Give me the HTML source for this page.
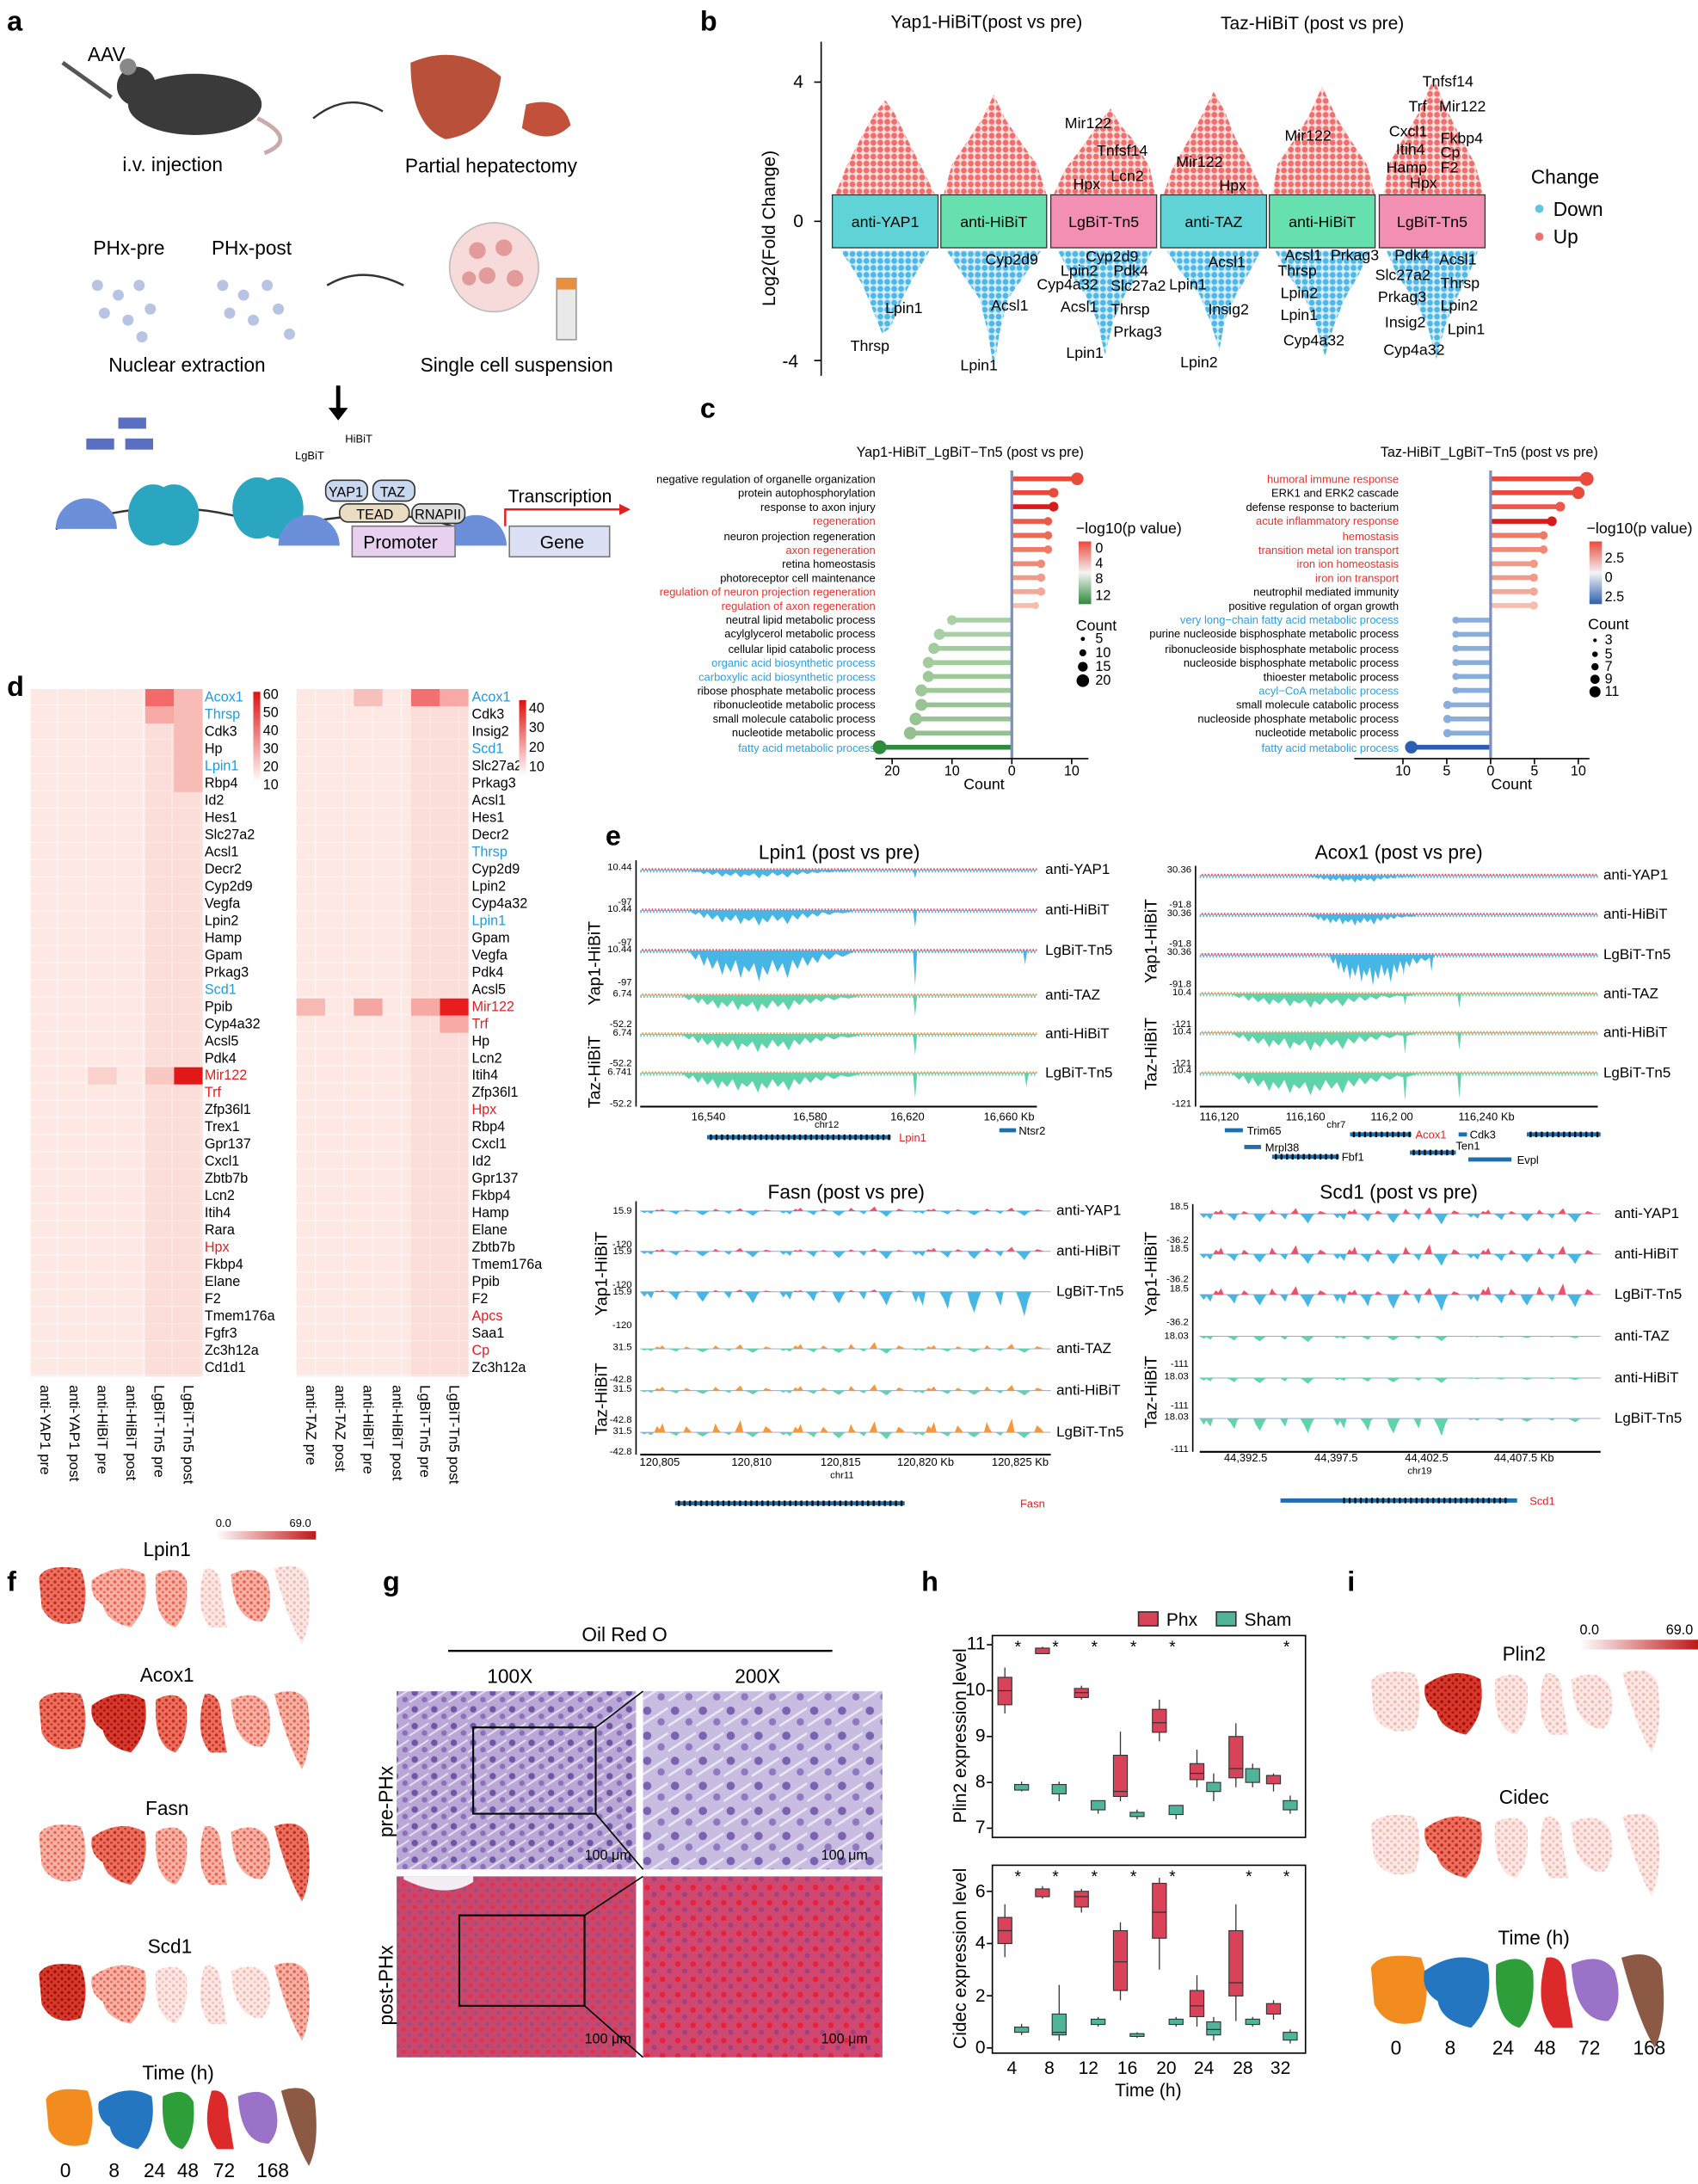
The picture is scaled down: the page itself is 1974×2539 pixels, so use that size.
<!DOCTYPE html>
<html><head><meta charset="utf-8"><style>
html,body{margin:0;padding:0;background:#fff}
svg{display:block}
text{font-family:"Liberation Sans",Arial,sans-serif}
.bl{stroke:#9aa8d0;stroke-width:0.6}
.nd{stroke-width:1.6;stroke-dasharray:1 1.3}
.w{stroke:#333;stroke-width:0.8}
.bp{fill:#d9435a;stroke:#333;stroke-width:0.7}
.bs{fill:#4fb49a;stroke:#333;stroke-width:0.7}
</style></head><body>
<svg xmlns="http://www.w3.org/2000/svg" xmlns:xlink="http://www.w3.org/1999/xlink" width="1974" height="2539" viewBox="0 0 1220 1569" preserveAspectRatio="none">
<defs>
<pattern id="rd" width="5" height="5" patternUnits="userSpaceOnUse"><rect width="5" height="5" fill="#fbe0dc"/><circle cx="2.5" cy="2.5" r="2.1" fill="#f26e6e"/></pattern>
<pattern id="bd" width="5" height="5" patternUnits="userSpaceOnUse"><rect width="5" height="5" fill="#d6eef9"/><circle cx="2.5" cy="2.5" r="2.1" fill="#4fb8e8"/></pattern>
<pattern id="hm" width="20.6" height="12.35" patternUnits="userSpaceOnUse"><rect width="20.6" height="12.35" fill="#fde8e4" stroke="#fff" stroke-width="0.5"/></pattern>
<pattern id="pre1" width="14" height="12" patternUnits="userSpaceOnUse"><rect width="14" height="12" fill="#b9a8d6"/><circle cx="4" cy="4" r="2.3" fill="#6e55a5"/><circle cx="11" cy="9" r="2" fill="#8a70bb"/><path d="M0,11 L14,2" stroke="#e6def2" stroke-width="1.2"/></pattern>
<pattern id="pre2" width="20" height="18" patternUnits="userSpaceOnUse"><rect width="20" height="18" fill="#c8bce0"/><circle cx="5" cy="5" r="3" fill="#7a62b0"/><circle cx="15" cy="13" r="2.6" fill="#8e78c0"/><path d="M0,16 L20,3" stroke="#ece6f6" stroke-width="1.6"/></pattern>
<pattern id="post1" width="8" height="8" patternUnits="userSpaceOnUse"><rect width="8" height="8" fill="#c9476b"/><circle cx="2" cy="2" r="1.5" fill="#e23050"/><circle cx="6" cy="6" r="1.3" fill="#9a4a8a"/></pattern>
<pattern id="post2" width="11" height="11" patternUnits="userSpaceOnUse"><rect width="11" height="11" fill="#d04870"/><circle cx="3" cy="3" r="2" fill="#e8203a"/><circle cx="8" cy="8" r="1.8" fill="#a04080"/></pattern>
<pattern id="o0" width="5" height="5" patternUnits="userSpaceOnUse"><rect width="5" height="5" fill="#fbe7e4"/><circle cx="1.5" cy="1.5" r="1.1" fill="#f3b8b0"/><circle cx="4" cy="3.8" r="0.8" fill="#f3b8b0"/></pattern>
<pattern id="o1" width="5" height="5" patternUnits="userSpaceOnUse"><rect width="5" height="5" fill="#f6b0a4"/><circle cx="1.5" cy="1.5" r="1.1" fill="#e8604e"/><circle cx="4" cy="3.8" r="0.8" fill="#e8604e"/></pattern>
<pattern id="o2" width="5" height="5" patternUnits="userSpaceOnUse"><rect width="5" height="5" fill="#e9705e"/><circle cx="1.5" cy="1.5" r="1.1" fill="#c8281c"/><circle cx="4" cy="3.8" r="0.8" fill="#c8281c"/></pattern>
<pattern id="o3" width="5" height="5" patternUnits="userSpaceOnUse"><rect width="5" height="5" fill="#d8382a"/><circle cx="1.5" cy="1.5" r="1.1" fill="#a01010"/><circle cx="4" cy="3.8" r="0.8" fill="#a01010"/></pattern>
<linearGradient id="fg"><stop offset="0" stop-color="#fff"/><stop offset="1" stop-color="#c01818"/></linearGradient>
<linearGradient id="hg" x1="0" y1="0" x2="0" y2="1"><stop offset="0" stop-color="#e01010"/><stop offset="1" stop-color="#fff"/></linearGradient>
<linearGradient id="gg" x1="0" y1="0" x2="0" y2="1"><stop offset="0" stop-color="#e84a3c"/><stop offset="0.5" stop-color="#f4f4f4"/><stop offset="1" stop-color="#2e8a3c"/></linearGradient>
<linearGradient id="gb" x1="0" y1="0" x2="0" y2="1"><stop offset="0" stop-color="#e84a3c"/><stop offset="0.5" stop-color="#f4f4f4"/><stop offset="1" stop-color="#2d5fb0"/></linearGradient>
<path id="dip" d="M0,0 L4,3 L6,1 L9,5 L11,2 L14,6 L17,3 L20,8 L22,4 L25,7 L28,3 L31,9 L33,5 L36,7 L39,4 L42,10 L44,5 L47,8 L50,3 L53,7 L56,4 L59,9 L62,3 L65,6 L68,2 L71,5 L74,2 L77,4 L80,1 L84,3 L88,1 L92,2 L96,1 L100,0 Z"/>
<path id="spk" d="M0,0 L1,10 L2,0Z"/>
<path id="bD" d="M0,0 L3,3 L5,1 L8,4 L10,0 L20,0 L23,2 L26,5 L28,1 L30,0 L40,0 L42,3 L45,6 L48,2 L50,0 L60,0 L62,2 L64,4 L66,0 L75,0 L78,3 L81,7 L84,2 L86,0 L100,0Z"/>
<path id="bU" d="M10,0 L12,-2 L14,-1 L16,-3 L18,0 L31,0 L33,-2 L35,-1 L37,0 L52,0 L54,-3 L56,-1 L58,0 L68,0 L70,-2 L72,-4 L74,0 L88,0 L90,-2 L93,-1 L95,0Z"/>
<path id="s0" d="M0,8 Q5,-2 30,2 Q37,20 30,40 Q10,46 2,30Z"/>
<path id="s1" d="M0,10 Q20,-4 38,6 Q42,30 28,44 Q10,40 8,28 Q-2,22 0,10Z"/>
<path id="s2" d="M4,6 Q20,-2 26,10 Q28,34 18,44 Q2,40 4,6Z"/>
<path id="s3" d="M8,2 Q20,0 20,20 L24,44 L12,44 Q0,30 8,2Z"/>
<path id="s4" d="M2,6 Q20,-2 28,10 Q34,30 24,40 Q4,40 2,6Z"/>
<path id="s5" d="M2,2 Q20,-4 26,8 Q30,40 22,56 Q12,40 2,2Z"/>
</defs>
<rect width="1220" height="1569" fill="#fff"/>
<g font-weight="bold" font-size="20">
<text x="5" y="22">a</text><text x="503" y="22">b</text><text x="503" y="300">c</text>
<text x="5" y="500">d</text><text x="435" y="607">e</text><text x="5" y="1143">f</text>
<text x="275" y="1143">g</text><text x="662" y="1143">h</text><text x="968" y="1143">i</text>
</g>
<!-- panel a -->
<g font-size="14">
<text x="63" y="44">AAV</text>
<ellipse cx="140" cy="75" rx="48" ry="22" fill="#3a3a3a"/><circle cx="98" cy="62" r="14" fill="#3a3a3a"/><circle cx="92" cy="48" r="6" fill="#888"/>
<path d="M185,85 Q215,100 190,110" stroke="#caa" stroke-width="3" fill="none"/>
<line x1="45" y1="45" x2="80" y2="70" stroke="#555" stroke-width="3"/>
<text x="88" y="123">i.v. injection</text>
<path d="M225,85 Q250,65 275,80" stroke="#333" fill="none" stroke-width="1.5"/>
<path d="M295,45 Q330,30 360,55 Q355,95 320,100 Q295,90 295,45Z" fill="#b8503a"/>
<path d="M378,75 Q405,68 410,90 Q395,105 375,92Z" fill="#c2503a"/>
<text x="291" y="124">Partial hepatectomy</text>
<circle cx="355" cy="192" r="32" fill="#f7dada" stroke="#bbb"/>
<g fill="#e39a9a"><circle cx="343" cy="180" r="6"/><circle cx="362" cy="178" r="6"/><circle cx="350" cy="198" r="6"/><circle cx="370" cy="200" r="6"/><circle cx="337" cy="200" r="5"/></g>
<rect x="400" y="200" width="14" height="44" fill="#e9e9e9" stroke="#999"/><rect x="400" y="200" width="14" height="8" fill="#e89040"/>
<text x="302" y="267">Single cell suspension</text>
<text x="67" y="183">PHx-pre</text><text x="152" y="183">PHx-post</text>
<g fill="#b8c4e4"><circle cx="70" cy="205" r="4"/><circle cx="85" cy="212" r="4"/><circle cx="100" cy="205" r="4"/><circle cx="75" cy="225" r="4"/><circle cx="92" cy="230" r="4"/><circle cx="108" cy="222" r="4"/><circle cx="160" cy="205" r="4"/><circle cx="175" cy="212" r="4"/><circle cx="192" cy="205" r="4"/><circle cx="165" cy="225" r="4"/><circle cx="182" cy="230" r="4"/><circle cx="200" cy="222" r="4"/><circle cx="208" cy="240" r="4"/><circle cx="102" cy="242" r="4"/></g>
<text x="78" y="267">Nuclear extraction</text>
<path d="M290,205 Q260,190 235,205" stroke="#333" fill="none" stroke-width="1.5"/>
<line x1="243" y1="277" x2="243" y2="295" stroke="#000" stroke-width="3"/>
<path d="M236,293 L250,293 L243,302Z"/>
<path d="M40,380 Q120,350 200,380 Q280,360 330,380" stroke="#333" fill="none" stroke-width="1.5"/>
<g fill="#2aa6c0"><ellipse cx="110" cy="370" rx="18" ry="22"/><ellipse cx="125" cy="370" rx="18" ry="22"/><ellipse cx="185" cy="365" rx="18" ry="22"/><ellipse cx="200" cy="365" rx="18" ry="22"/></g>
<g fill="#6c8fd9"><path d="M40,380 a22,22 0 0 1 44,0Z"/><path d="M200,392 a22,22 0 0 1 44,0Z"/><path d="M320,392 a22,22 0 0 1 44,0Z"/></g>
<g fill="#5a6fc0"><rect x="62" y="315" width="20" height="8"/><rect x="85" y="300" width="20" height="8"/><rect x="90" y="315" width="20" height="8"/></g>
<rect x="234" y="345" width="30" height="15" rx="6" fill="#c8d8f0" stroke="#333"/><text x="236" y="357" font-size="10">YAP1</text>
<rect x="268" y="345" width="30" height="15" rx="6" fill="#c8d8f0" stroke="#333"/><text x="273" y="357" font-size="10">TAZ</text>
<rect x="244" y="362" width="50" height="13" rx="6" fill="#eadcc0" stroke="#333"/><text x="256" y="373" font-size="10">TEAD</text>
<rect x="296" y="362" width="38" height="14" rx="6" fill="#ddd" stroke="#333"/><text x="298" y="373" font-size="10">RNAPII</text>
<rect x="253" y="378" width="74" height="22" fill="#e8d0f0" stroke="#777"/><text x="261" y="394" font-size="13">Promoter</text>
<rect x="366" y="378" width="72" height="22" fill="#dce0f4" stroke="#777"/><text x="388" y="394" font-size="13">Gene</text>
<text x="365" y="361" font-size="13">Transcription</text>
<path d="M363,378 L363,366 L445,366" stroke="#e02020" fill="none" stroke-width="1.5"/><path d="M445,362 L453,366 L445,370Z" fill="#e02020"/>
<text x="212" y="330" font-size="8">LgBiT</text><text x="248" y="318" font-size="8">HiBiT</text>
</g>
<!-- panel b -->
<g font-size="13">
<text x="640" y="20">Yap1-HiBiT(post vs pre)</text><text x="877" y="21">Taz-HiBiT (post vs pre)</text>
<line x1="590" y1="30" x2="590" y2="270" stroke="#000"/>
<text x="570" y="63">4</text><text x="570" y="163">0</text><text x="562" y="264">-4</text>
<line x1="585" y1="59" x2="590" y2="59" stroke="#000"/><line x1="585" y1="159" x2="590" y2="159" stroke="#000"/><line x1="585" y1="259" x2="590" y2="259" stroke="#000"/>
<text transform="translate(557,220) rotate(-90)">Log2(Fold Change)</text>
<text x="1100" y="132" font-size="14">Change</text>
<circle cx="1106" cy="150" r="3" fill="#5fc4e6"/><text x="1116" y="155" font-size="14">Down</text>
<circle cx="1106" cy="170" r="3" fill="#f07070"/><text x="1116" y="175" font-size="14">Up</text>
</g>
<g fill="url(#rd)">
<polygon points="600,140 672,140 662,120 652,100 642,80 636,72 628,82 618,100 608,120"/>
<polygon points="678,140 752,140 745,118 732,100 722,85 714,68 706,85 696,100 684,118"/>
<polygon points="757,140 830,140 826,120 814,100 805,90 798,78 790,88 778,105 765,122"/>
<polygon points="836,140 908,140 898,118 888,100 880,80 872,66 864,82 852,104 842,122"/>
<polygon points="914,140 988,140 982,118 970,100 960,84 950,62 940,84 930,100 918,118"/>
<polygon points="994,140 1066,140 1060,118 1050,100 1040,80 1030,56 1020,80 1008,100 998,118"/>
</g>
<g fill="url(#bd)">
<polygon points="604,180 668,180 656,200 648,215 640,235 634,240 628,225 620,205 612,192"/>
<polygon points="680,180 748,180 736,198 724,215 718,240 714,265 710,240 704,215 692,198"/>
<polygon points="760,180 828,180 820,195 808,212 800,230 794,255 788,230 780,212 768,195"/>
<polygon points="838,180 906,180 898,195 888,212 880,230 876,252 870,232 862,212 848,195"/>
<polygon points="916,180 984,180 976,198 966,215 958,235 952,256 946,235 938,215 926,198"/>
<polygon points="996,180 1062,180 1055,198 1046,215 1038,235 1032,258 1026,235 1016,215 1004,198"/>
</g>
<g font-size="11" stroke="#333" stroke-width="0.8">
<rect x="598" y="140" width="76" height="38" fill="#5fd3d6"/><rect x="676" y="140" width="76" height="38" fill="#67e0b0"/><rect x="755" y="140" width="76" height="38" fill="#f28fb2"/>
<rect x="834" y="140" width="76" height="38" fill="#5fd3d6"/><rect x="912" y="140" width="76" height="38" fill="#67e0b0"/><rect x="991" y="140" width="76" height="38" fill="#f28fb2"/>
</g>
<g font-size="11" text-anchor="middle">
<text x="636" y="163">anti-YAP1</text><text x="714" y="163">anti-HiBiT</text><text x="793" y="163">LgBiT-Tn5</text>
<text x="872" y="163">anti-TAZ</text><text x="950" y="163">anti-HiBiT</text><text x="1029" y="163">LgBiT-Tn5</text>
</g>
<g font-size="11">
<text x="611" y="252">Thrsp</text><text x="636" y="225">Lpin1</text><text x="708" y="190">Cyp2d9</text><text x="712" y="223">Acsl1</text><text x="690" y="266">Lpin1</text>
<text x="765" y="92">Mir122</text><text x="788" y="112">Tnfsf14</text><text x="798" y="130">Lcn2</text><text x="771" y="136">Hpx</text>
<text x="780" y="188">Cyp2d9</text><text x="762" y="198">Lpin2</text><text x="800" y="198">Pdk4</text><text x="745" y="208">Cyp4a32</text><text x="798" y="209">Slc27a2</text>
<text x="762" y="224">Acsl1</text><text x="798" y="226">Thrsp</text><text x="800" y="242">Prkag3</text><text x="766" y="257">Lpin1</text>
<text x="845" y="120">Mir122</text><text x="876" y="137">Hpx</text><text x="868" y="192">Acsl1</text><text x="840" y="208">Lpin1</text><text x="868" y="226">Insig2</text><text x="848" y="264">Lpin2</text>
<text x="923" y="101">Mir122</text><text x="923" y="187">Acsl1</text><text x="956" y="187">Prkag3</text><text x="918" y="198">Thrsp</text><text x="920" y="214">Lpin2</text><text x="920" y="230">Lpin1</text><text x="922" y="248">Cyp4a32</text>
<text x="1022" y="62">Tnfsf14</text><text x="1012" y="80">Trf</text><text x="1034" y="80">Mir122</text><text x="998" y="98">Cxcl1</text><text x="1003" y="111">Itih4</text><text x="1035" y="103">Fkbp4</text>
<text x="996" y="124">Hamp</text><text x="1035" y="113">Cp</text><text x="1035" y="124">F2</text><text x="1013" y="135">Hpx</text>
<text x="1002" y="187">Pdk4</text><text x="1034" y="190">Acsl1</text><text x="988" y="201">Slc27a2</text><text x="1035" y="207">Thrsp</text><text x="990" y="217">Prkag3</text>
<text x="1035" y="223">Lpin2</text><text x="995" y="235">Insig2</text><text x="1040" y="240">Lpin1</text><text x="994" y="255">Cyp4a32</text>
</g>
<!-- panel c -->
<g font-size="10" text-anchor="middle"><text x="697" y="328">Yap1-HiBiT_LgBiT−Tn5 (post vs pre)</text><text x="1070" y="328">Taz-HiBiT_LgBiT−Tn5 (post vs pre)</text></g>
<g font-size="8" text-anchor="end">
<text x="629" y="347">negative regulation of organelle organization</text>
<text x="629" y="357">protein autophosphorylation</text>
<text x="629" y="367">response to axon injury</text>
<text x="629" y="377" fill="#e8322a">regeneration</text>
<text x="629" y="388">neuron projection regeneration</text>
<text x="629" y="398" fill="#e8322a">axon regeneration</text>
<text x="629" y="408">retina homeostasis</text>
<text x="629" y="418">photoreceptor cell maintenance</text>
<text x="629" y="428" fill="#e8322a">regulation of neuron projection regeneration</text>
<text x="629" y="438" fill="#e8322a">regulation of axon regeneration</text>
<text x="629" y="448">neutral lipid metabolic process</text>
<text x="629" y="458">acylglycerol metabolic process</text>
<text x="629" y="469">cellular lipid catabolic process</text>
<text x="629" y="479" fill="#29a0e0">organic acid biosynthetic process</text>
<text x="629" y="489" fill="#29a0e0">carboxylic acid biosynthetic process</text>
<text x="629" y="499">ribose phosphate metabolic process</text>
<text x="629" y="509">ribonucleotide metabolic process</text>
<text x="629" y="519">small molecule catabolic process</text>
<text x="629" y="529">nucleotide metabolic process</text>
<text x="629" y="540" fill="#29a0e0">fatty acid metabolic process</text>
<text x="1005" y="347" fill="#e8322a">humoral immune response</text>
<text x="1005" y="357">ERK1 and ERK2 cascade</text>
<text x="1005" y="367">defense response to bacterium</text>
<text x="1005" y="377" fill="#e8322a">acute inflammatory response</text>
<text x="1005" y="388" fill="#e8322a">hemostasis</text>
<text x="1005" y="398" fill="#e8322a">transition metal ion transport</text>
<text x="1005" y="408" fill="#e8322a">iron ion homeostasis</text>
<text x="1005" y="418" fill="#e8322a">iron ion transport</text>
<text x="1005" y="428">neutrophil mediated immunity</text>
<text x="1005" y="438">positive regulation of organ growth</text>
<text x="1005" y="448" fill="#29a0e0">very long−chain fatty acid metabolic process</text>
<text x="1005" y="458">purine nucleoside bisphosphate metabolic process</text>
<text x="1005" y="469">ribonucleoside bisphosphate metabolic process</text>
<text x="1005" y="479">nucleoside bisphosphate metabolic process</text>
<text x="1005" y="489">thioester metabolic process</text>
<text x="1005" y="499" fill="#29a0e0">acyl−CoA metabolic process</text>
<text x="1005" y="509">small molecule catabolic process</text>
<text x="1005" y="519">nucleoside phosphate metabolic process</text>
<text x="1005" y="529">nucleotide metabolic process</text>
<text x="1005" y="540" fill="#29a0e0">fatty acid metabolic process</text>
</g>
<g stroke-width="3.5">
<line x1="727" y1="344" x2="774" y2="344" stroke="#e84a3c"/><line x1="727" y1="354" x2="757" y2="354" stroke="#e84a3c"/><line x1="727" y1="364" x2="757" y2="364" stroke="#d81c1c"/><line x1="727" y1="374.5" x2="753" y2="374.5" stroke="#ea5a48"/><line x1="727" y1="384.6" x2="753" y2="384.6" stroke="#ec6a58"/><line x1="727" y1="394.8" x2="753" y2="394.8" stroke="#ee7a68"/><line x1="727" y1="405" x2="748" y2="405" stroke="#f08a78"/><line x1="727" y1="415" x2="748" y2="415" stroke="#f29a88"/><line x1="727" y1="425" x2="748" y2="425" stroke="#f4a898"/><line x1="727" y1="435" x2="744" y2="435" stroke="#f6bcad"/>
<line x1="727" y1="445.5" x2="684" y2="445.5" stroke="#a9d0a4"/><line x1="727" y1="455.7" x2="675" y2="455.7" stroke="#a9d0a4"/><line x1="727" y1="465.8" x2="671" y2="465.8" stroke="#a3cc9e"/><line x1="727" y1="476" x2="667" y2="476" stroke="#a3cc9e"/><line x1="727" y1="486" x2="667" y2="486" stroke="#9ec89a"/><line x1="727" y1="496" x2="662" y2="496" stroke="#9ec89a"/><line x1="727" y1="506.4" x2="662" y2="506.4" stroke="#98c494"/><line x1="727" y1="516.5" x2="658" y2="516.5" stroke="#98c494"/><line x1="727" y1="526.7" x2="654" y2="526.7" stroke="#92c08e"/><line x1="727" y1="536.8" x2="632" y2="536.8" stroke="#2e8a3c"/>
<line x1="1071" y1="344" x2="1140" y2="344" stroke="#e84a3c"/><line x1="1071" y1="354" x2="1134" y2="354" stroke="#e84a3c"/><line x1="1071" y1="364" x2="1121" y2="364" stroke="#ea5a48"/><line x1="1071" y1="374.5" x2="1115" y2="374.5" stroke="#d81c1c"/><line x1="1071" y1="384.6" x2="1109" y2="384.6" stroke="#ee7a68"/><line x1="1071" y1="394.8" x2="1109" y2="394.8" stroke="#f08a78"/><line x1="1071" y1="405" x2="1102" y2="405" stroke="#f29a88"/><line x1="1071" y1="415" x2="1102" y2="415" stroke="#f29a88"/><line x1="1071" y1="425" x2="1102" y2="425" stroke="#f4a898"/><line x1="1071" y1="435" x2="1102" y2="435" stroke="#f6bcad"/>
<line x1="1071" y1="445.5" x2="1046" y2="445.5" stroke="#8aaedc"/><line x1="1071" y1="455.7" x2="1046" y2="455.7" stroke="#8aaedc"/><line x1="1071" y1="465.8" x2="1046" y2="465.8" stroke="#8aaedc"/><line x1="1071" y1="476" x2="1046" y2="476" stroke="#8aaedc"/><line x1="1071" y1="486" x2="1046" y2="486" stroke="#8aaedc"/><line x1="1071" y1="496" x2="1046" y2="496" stroke="#8aaedc"/><line x1="1071" y1="506.4" x2="1040" y2="506.4" stroke="#8aaedc"/><line x1="1071" y1="516.5" x2="1040" y2="516.5" stroke="#8aaedc"/><line x1="1071" y1="526.7" x2="1040" y2="526.7" stroke="#8aaedc"/><line x1="1071" y1="536.8" x2="1014" y2="536.8" stroke="#2d5fb0"/>
</g>
<g>
<circle cx="774" cy="344" r="4.5" fill="#e84a3c"/><circle cx="757" cy="354" r="3.5" fill="#e84a3c"/><circle cx="757" cy="364" r="3.5" fill="#d81c1c"/><circle cx="753" cy="374.5" r="3" fill="#ea5a48"/><circle cx="753" cy="384.6" r="3" fill="#ec6a58"/><circle cx="753" cy="394.8" r="3" fill="#ee7a68"/><circle cx="748" cy="405" r="3" fill="#f08a78"/><circle cx="748" cy="415" r="3" fill="#f29a88"/><circle cx="748" cy="425" r="3" fill="#f4a898"/><circle cx="744" cy="435" r="2.5" fill="#f6bcad"/>
<circle cx="684" cy="445.5" r="3.5" fill="#a9d0a4"/><circle cx="675" cy="455.7" r="4" fill="#a9d0a4"/><circle cx="671" cy="465.8" r="4" fill="#a3cc9e"/><circle cx="667" cy="476" r="4" fill="#a3cc9e"/><circle cx="667" cy="486" r="4" fill="#9ec89a"/><circle cx="662" cy="496" r="4.3" fill="#9ec89a"/><circle cx="662" cy="506.4" r="4.3" fill="#98c494"/><circle cx="658" cy="516.5" r="4.5" fill="#98c494"/><circle cx="654" cy="526.7" r="4.5" fill="#92c08e"/><circle cx="632" cy="536.8" r="5" fill="#2e8a3c"/>
<circle cx="1140" cy="344" r="5" fill="#e84a3c"/><circle cx="1134" cy="354" r="4.5" fill="#e84a3c"/><circle cx="1121" cy="364" r="3.5" fill="#ea5a48"/><circle cx="1115" cy="374.5" r="3.5" fill="#d81c1c"/><circle cx="1109" cy="384.6" r="3" fill="#ee7a68"/><circle cx="1109" cy="394.8" r="3" fill="#f08a78"/><circle cx="1102" cy="405" r="3" fill="#f29a88"/><circle cx="1102" cy="415" r="3" fill="#f29a88"/><circle cx="1102" cy="425" r="3" fill="#f4a898"/><circle cx="1102" cy="435" r="3" fill="#f6bcad"/>
<circle cx="1046" cy="445.5" r="2.5" fill="#8aaedc"/><circle cx="1046" cy="455.7" r="2.5" fill="#8aaedc"/><circle cx="1046" cy="465.8" r="2.5" fill="#8aaedc"/><circle cx="1046" cy="476" r="2.5" fill="#8aaedc"/><circle cx="1046" cy="486" r="2.5" fill="#8aaedc"/><circle cx="1046" cy="496" r="2.5" fill="#8aaedc"/><circle cx="1040" cy="506.4" r="3" fill="#8aaedc"/><circle cx="1040" cy="516.5" r="3" fill="#8aaedc"/><circle cx="1040" cy="526.7" r="3" fill="#8aaedc"/><circle cx="1014" cy="536.8" r="4.5" fill="#2d5fb0"/>
</g>
<g stroke-width="2" stroke="#7b8fc6"><line x1="727" y1="338" x2="727" y2="545"/><line x1="1071" y1="338" x2="1071" y2="545"/></g>
<g stroke="#000"><line x1="629" y1="545" x2="782" y2="545"/><line x1="973" y1="545" x2="1142" y2="545"/>
<line x1="641" y1="545" x2="641" y2="549"/><line x1="684" y1="545" x2="684" y2="549"/><line x1="727" y1="545" x2="727" y2="549"/><line x1="770" y1="545" x2="770" y2="549"/>
<line x1="1008" y1="545" x2="1008" y2="549"/><line x1="1039.5" y1="545" x2="1039.5" y2="549"/><line x1="1071" y1="545" x2="1071" y2="549"/><line x1="1102.5" y1="545" x2="1102.5" y2="549"/><line x1="1134" y1="545" x2="1134" y2="549"/></g>
<g font-size="10" text-anchor="middle"><text x="641" y="557">20</text><text x="684" y="557">10</text><text x="727" y="557">0</text><text x="770" y="557">10</text>
<text x="1008" y="557">10</text><text x="1039.5" y="557">5</text><text x="1071" y="557">0</text><text x="1102.5" y="557">5</text><text x="1134" y="557">10</text>
<text x="707" y="567" font-size="11">Count</text><text x="1086" y="567" font-size="11">Count</text></g>
<g font-size="11"><text x="773" y="383">−log10(p value)</text><text x="1140" y="383">−log10(p value)</text><text x="773" y="453">Count</text><text x="1141" y="452">Count</text></g>
<rect x="775" y="389" width="9" height="45" fill="url(#gg)"/><rect x="1142" y="389" width="9" height="45" fill="url(#gb)"/>
<g font-size="10"><text x="787" y="397">0</text><text x="787" y="408">4</text><text x="787" y="419">8</text><text x="787" y="431">12</text>
<text x="1153" y="404">2.5</text><text x="1153" y="418">0</text><text x="1153" y="432">2.5</text>
<text x="787" y="462">5</text><text x="787" y="472">10</text><text x="787" y="482">15</text><text x="787" y="492">20</text>
<text x="1153" y="463">3</text><text x="1153" y="473">5</text><text x="1153" y="482">7</text><text x="1153" y="491">9</text><text x="1153" y="500">11</text></g>
<circle cx="778" cy="459" r="1.5"/><circle cx="778" cy="469" r="2.5"/><circle cx="778" cy="479" r="3.5"/><circle cx="778" cy="489" r="4.5"/>
<circle cx="1146" cy="460" r="1.3"/><circle cx="1146" cy="470" r="2"/><circle cx="1146" cy="479" r="2.6"/><circle cx="1146" cy="488" r="3.3"/><circle cx="1146" cy="497" r="4"/>
<!-- panel d -->
<rect x="22" y="495" width="123.6" height="494" fill="url(#hm)"/>
<rect x="104.4" y="495" width="41.2" height="494" fill="#f7c6bf" opacity="0.3"/>
<rect x="104.4" y="495" width="20.6" height="12.35" fill="#f26a6a"/><rect x="104.4" y="507.35" width="20.6" height="12.35" fill="#f7a9a5"/>
<rect x="125" y="495" width="20.6" height="74" fill="#f8bcb6"/>
<rect x="125" y="766.7" width="20.6" height="12.35" fill="#e01818"/><rect x="104.4" y="766.7" width="20.6" height="12.35" fill="#f9c8c2"/><rect x="63.2" y="766.7" width="20.6" height="12.35" fill="#fad2cc"/>
<rect x="213" y="495" width="123.6" height="494" fill="url(#hm)"/>
<rect x="295.4" y="495" width="41.2" height="494" fill="#f7c6bf" opacity="0.3"/>
<rect x="295.4" y="495" width="20.6" height="12.35" fill="#f27070"/><rect x="316" y="495" width="20.6" height="12.35" fill="#f7aaa5"/><rect x="254.2" y="495" width="20.6" height="12.35" fill="#f8c0ba"/>
<rect x="316" y="717.3" width="20.6" height="12.35" fill="#e81c1c"/><rect x="295.4" y="717.3" width="20.6" height="12.35" fill="#f6a8a2"/><rect x="254.2" y="717.3" width="20.6" height="12.35" fill="#f4a6a0"/><rect x="213" y="717.3" width="20.6" height="12.35" fill="#f7b9b3"/>
<rect x="316" y="729.6" width="20.6" height="12.35" fill="#f7aaa5"/>
<text font-size="10" x="147" y="504"><tspan x="147" fill="#1e9be0">Acox1</tspan><tspan x="147" dy="12.35" fill="#1e9be0">Thrsp</tspan><tspan x="147" dy="12.35">Cdk3</tspan><tspan x="147" dy="12.35">Hp</tspan><tspan x="147" dy="12.35" fill="#1e9be0">Lpin1</tspan><tspan x="147" dy="12.35">Rbp4</tspan><tspan x="147" dy="12.35">Id2</tspan><tspan x="147" dy="12.35">Hes1</tspan><tspan x="147" dy="12.35">Slc27a2</tspan><tspan x="147" dy="12.35">Acsl1</tspan><tspan x="147" dy="12.35">Decr2</tspan><tspan x="147" dy="12.35">Cyp2d9</tspan><tspan x="147" dy="12.35">Vegfa</tspan><tspan x="147" dy="12.35">Lpin2</tspan><tspan x="147" dy="12.35">Hamp</tspan><tspan x="147" dy="12.35">Gpam</tspan><tspan x="147" dy="12.35">Prkag3</tspan><tspan x="147" dy="12.35" fill="#1e9be0">Scd1</tspan><tspan x="147" dy="12.35">Ppib</tspan><tspan x="147" dy="12.35">Cyp4a32</tspan><tspan x="147" dy="12.35">Acsl5</tspan><tspan x="147" dy="12.35">Pdk4</tspan><tspan x="147" dy="12.35" fill="#e02020">Mir122</tspan><tspan x="147" dy="12.35" fill="#e02020">Trf</tspan><tspan x="147" dy="12.35">Zfp36l1</tspan><tspan x="147" dy="12.35">Trex1</tspan><tspan x="147" dy="12.35">Gpr137</tspan><tspan x="147" dy="12.35">Cxcl1</tspan><tspan x="147" dy="12.35">Zbtb7b</tspan><tspan x="147" dy="12.35">Lcn2</tspan><tspan x="147" dy="12.35">Itih4</tspan><tspan x="147" dy="12.35">Rara</tspan><tspan x="147" dy="12.35" fill="#e02020">Hpx</tspan><tspan x="147" dy="12.35">Fkbp4</tspan><tspan x="147" dy="12.35">Elane</tspan><tspan x="147" dy="12.35">F2</tspan><tspan x="147" dy="12.35">Tmem176a</tspan><tspan x="147" dy="12.35">Fgfr3</tspan><tspan x="147" dy="12.35">Zc3h12a</tspan><tspan x="147" dy="12.35">Cd1d1</tspan></text>
<text font-size="10" x="339" y="504"><tspan x="339" fill="#1e9be0">Acox1</tspan><tspan x="339" dy="12.35">Cdk3</tspan><tspan x="339" dy="12.35">Insig2</tspan><tspan x="339" dy="12.35" fill="#1e9be0">Scd1</tspan><tspan x="339" dy="12.35">Slc27a2</tspan><tspan x="339" dy="12.35">Prkag3</tspan><tspan x="339" dy="12.35">Acsl1</tspan><tspan x="339" dy="12.35">Hes1</tspan><tspan x="339" dy="12.35">Decr2</tspan><tspan x="339" dy="12.35" fill="#1e9be0">Thrsp</tspan><tspan x="339" dy="12.35">Cyp2d9</tspan><tspan x="339" dy="12.35">Lpin2</tspan><tspan x="339" dy="12.35">Cyp4a32</tspan><tspan x="339" dy="12.35" fill="#1e9be0">Lpin1</tspan><tspan x="339" dy="12.35">Gpam</tspan><tspan x="339" dy="12.35">Vegfa</tspan><tspan x="339" dy="12.35">Pdk4</tspan><tspan x="339" dy="12.35">Acsl5</tspan><tspan x="339" dy="12.35" fill="#e02020">Mir122</tspan><tspan x="339" dy="12.35" fill="#e02020">Trf</tspan><tspan x="339" dy="12.35">Hp</tspan><tspan x="339" dy="12.35">Lcn2</tspan><tspan x="339" dy="12.35">Itih4</tspan><tspan x="339" dy="12.35">Zfp36l1</tspan><tspan x="339" dy="12.35" fill="#e02020">Hpx</tspan><tspan x="339" dy="12.35">Rbp4</tspan><tspan x="339" dy="12.35">Cxcl1</tspan><tspan x="339" dy="12.35">Id2</tspan><tspan x="339" dy="12.35">Gpr137</tspan><tspan x="339" dy="12.35">Fkbp4</tspan><tspan x="339" dy="12.35">Hamp</tspan><tspan x="339" dy="12.35">Elane</tspan><tspan x="339" dy="12.35">Zbtb7b</tspan><tspan x="339" dy="12.35">Tmem176a</tspan><tspan x="339" dy="12.35">Ppib</tspan><tspan x="339" dy="12.35">F2</tspan><tspan x="339" dy="12.35" fill="#e02020">Apcs</tspan><tspan x="339" dy="12.35">Saa1</tspan><tspan x="339" dy="12.35" fill="#e02020">Cp</tspan><tspan x="339" dy="12.35">Zc3h12a</tspan></text>
<g font-size="10.5">
<text transform="translate(29,995) rotate(90)">anti-YAP1 pre</text><text transform="translate(50,995) rotate(90)">anti-YAP1 post</text><text transform="translate(70,995) rotate(90)">anti-HiBiT pre</text><text transform="translate(91,995) rotate(90)">anti-HiBiT post</text><text transform="translate(111,995) rotate(90)">LgBiT-Tn5 pre</text><text transform="translate(132,995) rotate(90)">LgBiT-Tn5 post</text>
<text transform="translate(220,995) rotate(90)">anti-TAZ pre</text><text transform="translate(241,995) rotate(90)">anti-TAZ post</text><text transform="translate(261,995) rotate(90)">anti-HiBiT pre</text><text transform="translate(282,995) rotate(90)">anti-HiBiT post</text><text transform="translate(302,995) rotate(90)">LgBiT-Tn5 pre</text><text transform="translate(323,995) rotate(90)">LgBiT-Tn5 post</text>
</g>
<rect x="182" y="497" width="5" height="65" fill="url(#hg)"/><rect x="373" y="503" width="5" height="54" fill="url(#hg)"/>
<g font-size="10"><text x="189" y="502">60</text><text x="189" y="515">50</text><text x="189" y="528">40</text><text x="189" y="541">30</text><text x="189" y="554">20</text><text x="189" y="567">10</text>
<text x="380" y="512">40</text><text x="380" y="526">30</text><text x="380" y="540">20</text><text x="380" y="554">10</text></g>
<!-- panel e -->
<g font-size="14" text-anchor="middle"><text x="603" y="617">Lpin1 (post vs pre)</text><text x="1005" y="617">Acox1 (post vs pre)</text><text x="608" y="861">Fasn (post vs pre)</text><text x="1005" y="861">Scd1 (post vs pre)</text></g>
<g stroke="#000"><line x1="457" y1="618" x2="457" y2="795"/><line x1="859" y1="622" x2="859" y2="795"/><line x1="457" y1="863" x2="457" y2="1045"/><line x1="857" y1="865" x2="857" y2="1043"/></g>
<g stroke="#000" stroke-width="1.3"><line x1="460" y1="795" x2="745" y2="795"/><line x1="862" y1="795" x2="1148" y2="795"/><line x1="460" y1="1045" x2="755" y2="1045"/><line x1="862" y1="1043" x2="1150" y2="1043"/></g>
<g font-size="12" text-anchor="middle">
<text transform="translate(431,692) rotate(-90)">Yap1-HiBiT</text><text transform="translate(431,770) rotate(-90)">Taz-HiBiT</text>
<text transform="translate(831,676) rotate(-90)">Yap1-HiBiT</text><text transform="translate(831,757) rotate(-90)">Taz-HiBiT</text>
<text transform="translate(436,915) rotate(-90)">Yap1-HiBiT</text><text transform="translate(436,1005) rotate(-90)">Taz-HiBiT</text>
<text transform="translate(831,915) rotate(-90)">Yap1-HiBiT</text><text transform="translate(831,1000) rotate(-90)">Taz-HiBiT</text>
</g>
<g font-size="10.5">
<text x="751" y="628">anti-YAP1</text><text x="751" y="657">anti-HiBiT</text><text x="751" y="686">LgBiT-Tn5</text><text x="751" y="718">anti-TAZ</text><text x="751" y="746">anti-HiBiT</text><text x="751" y="774">LgBiT-Tn5</text>
<text x="1152" y="632">anti-YAP1</text><text x="1152" y="660">anti-HiBiT</text><text x="1152" y="689">LgBiT-Tn5</text><text x="1152" y="717">anti-TAZ</text><text x="1152" y="745">anti-HiBiT</text><text x="1152" y="774">LgBiT-Tn5</text>
<text x="759" y="873">anti-YAP1</text><text x="759" y="902">anti-HiBiT</text><text x="759" y="931">LgBiT-Tn5</text><text x="759" y="972">anti-TAZ</text><text x="759" y="1002">anti-HiBiT</text><text x="759" y="1032">LgBiT-Tn5</text>
<text x="1160" y="875">anti-YAP1</text><text x="1160" y="904">anti-HiBiT</text><text x="1160" y="933">LgBiT-Tn5</text><text x="1160" y="963">anti-TAZ</text><text x="1160" y="993">anti-HiBiT</text><text x="1160" y="1022">LgBiT-Tn5</text>
</g>
<g font-size="7" text-anchor="end">
<text x="454" y="625">10.44</text><text x="454" y="650">-97</text><text x="454" y="655">10.44</text><text x="454" y="679">-97</text><text x="454" y="684">10.44</text><text x="454" y="708">-97</text><text x="454" y="716">6.74</text><text x="454" y="738">-52.2</text><text x="454" y="744">6.74</text><text x="454" y="766">-52.2</text><text x="454" y="772">6.741</text><text x="454" y="795">-52.2</text>
<text x="856" y="627">30.36</text><text x="856" y="652">-91.8</text><text x="856" y="658">30.36</text><text x="856" y="680">-91.8</text><text x="856" y="686">30.36</text><text x="856" y="709">-91.8</text><text x="856" y="715">10.4</text><text x="856" y="738">-121</text><text x="856" y="743">10.4</text><text x="856" y="766">-121</text><text x="856" y="771">10.4</text><text x="856" y="795">-121</text>
<text x="454" y="872">15.9</text><text x="454" y="896">-120</text><text x="454" y="901">15.9</text><text x="454" y="925">-120</text><text x="454" y="930">15.9</text><text x="454" y="954">-120</text><text x="454" y="970">31.5</text><text x="454" y="993">-42.8</text><text x="454" y="1000">31.5</text><text x="454" y="1022">-42.8</text><text x="454" y="1030">31.5</text><text x="454" y="1045">-42.8</text>
<text x="854" y="869">18.5</text><text x="854" y="893">-36.2</text><text x="854" y="899">18.5</text><text x="854" y="921">-36.2</text><text x="854" y="928">18.5</text><text x="854" y="952">-36.2</text><text x="854" y="962">18.03</text><text x="854" y="982">-111</text><text x="854" y="991">18.03</text><text x="854" y="1012">-111</text><text x="854" y="1020">18.03</text><text x="854" y="1043">-111</text>
</g>
<!-- Lpin1 tracks -->
<g>
<line class="bl" x1="460" y1="625" x2="745" y2="625"/><line class="bl" x1="460" y1="654" x2="745" y2="654"/><line class="bl" x1="460" y1="683" x2="745" y2="683"/><line class="bl" x1="460" y1="715" x2="745" y2="715"/><line class="bl" x1="460" y1="743" x2="745" y2="743"/><line class="bl" x1="460" y1="771" x2="745" y2="771"/>
<g stroke="#46b6e4" class="nd"><line x1="460" y1="626" x2="745" y2="626"/><line x1="460" y1="655" x2="745" y2="655"/><line x1="460" y1="684" x2="745" y2="684"/></g>
<g stroke="#f0506a" class="nd" stroke-dashoffset="1"><line x1="460" y1="624.5" x2="745" y2="624.5"/><line x1="460" y1="653.5" x2="745" y2="653.5"/><line x1="460" y1="682.5" x2="745" y2="682.5"/></g>
<g stroke="#5fd3a9" class="nd"><line x1="460" y1="716" x2="745" y2="716"/><line x1="460" y1="744" x2="745" y2="744"/><line x1="460" y1="772" x2="745" y2="772"/></g>
<g stroke="#f5973a" class="nd" stroke-dashoffset="1" stroke-width="1"><line x1="460" y1="714.5" x2="745" y2="714.5"/><line x1="460" y1="742.5" x2="745" y2="742.5"/><line x1="460" y1="770.5" x2="745" y2="770.5"/></g>
<use xlink:href="#dip" fill="#46b6e4" transform="translate(495,625) scale(1.2,0.6)"/>
<use xlink:href="#dip" fill="#46b6e4" transform="translate(495,654) scale(1.2,1.1)"/>
<use xlink:href="#dip" fill="#46b6e4" transform="translate(495,683) scale(1.2,2.2)"/>
<use xlink:href="#dip" fill="#5fd3a9" transform="translate(490,715) scale(1.3,1.2)"/>
<use xlink:href="#dip" fill="#5fd3a9" transform="translate(490,743) scale(1.3,1.3)"/>
<use xlink:href="#dip" fill="#5fd3a9" transform="translate(490,771) scale(1.3,1.4)"/>
<use xlink:href="#spk" fill="#46b6e4" transform="translate(656,625) scale(1.5,0.6)"/><use xlink:href="#spk" fill="#46b6e4" transform="translate(656,654) scale(1.5,1.2)"/><use xlink:href="#spk" fill="#46b6e4" transform="translate(656,683) scale(1.5,2.5)"/>
<use xlink:href="#spk" fill="#5fd3a9" transform="translate(656,715) scale(1.5,1.5)"/><use xlink:href="#spk" fill="#5fd3a9" transform="translate(656,743) scale(1.5,1.5)"/><use xlink:href="#spk" fill="#5fd3a9" transform="translate(656,771) scale(1.5,1.8)"/>
<use xlink:href="#spk" fill="#46b6e4" transform="translate(735,683) scale(1.5,1)"/><use xlink:href="#spk" fill="#5fd3a9" transform="translate(736,771) scale(1.5,1)"/>
</g>
<!-- Acox1 tracks -->
<g>
<line class="bl" x1="862" y1="629" x2="1148" y2="629"/><line class="bl" x1="862" y1="657" x2="1148" y2="657"/><line class="bl" x1="862" y1="686" x2="1148" y2="686"/><line class="bl" x1="862" y1="714" x2="1148" y2="714"/><line class="bl" x1="862" y1="742" x2="1148" y2="742"/><line class="bl" x1="862" y1="771" x2="1148" y2="771"/>
<g stroke="#46b6e4" class="nd"><line x1="862" y1="630" x2="1148" y2="630"/><line x1="862" y1="658" x2="1148" y2="658"/><line x1="862" y1="687" x2="1148" y2="687"/></g>
<g stroke="#f0506a" class="nd" stroke-dashoffset="1"><line x1="862" y1="628.5" x2="1148" y2="628.5"/><line x1="862" y1="656.5" x2="1148" y2="656.5"/><line x1="862" y1="685.5" x2="1148" y2="685.5"/></g>
<g stroke="#5fd3a9" class="nd"><line x1="862" y1="715" x2="1148" y2="715"/><line x1="862" y1="743" x2="1148" y2="743"/><line x1="862" y1="772" x2="1148" y2="772"/></g>
<g stroke="#f5973a" class="nd" stroke-dashoffset="1" stroke-width="1"><line x1="862" y1="713.5" x2="1148" y2="713.5"/><line x1="862" y1="741.5" x2="1148" y2="741.5"/><line x1="862" y1="770.5" x2="1148" y2="770.5"/></g>
<use xlink:href="#dip" fill="#46b6e4" transform="translate(940,629) scale(0.8,0.5)"/>
<use xlink:href="#dip" fill="#46b6e4" transform="translate(940,657) scale(0.8,0.8)"/>
<use xlink:href="#dip" fill="#46b6e4" transform="translate(955,686) scale(0.75,2.2)"/>
<use xlink:href="#dip" fill="#5fd3a9" transform="translate(885,714) scale(1.35,1)"/>
<use xlink:href="#dip" fill="#5fd3a9" transform="translate(885,742) scale(1.35,1.3)"/>
<use xlink:href="#dip" fill="#5fd3a9" transform="translate(885,771) scale(1.35,1.6)"/>
<use xlink:href="#spk" fill="#46b6e4" transform="translate(1007,686) scale(1.5,1.5)"/><use xlink:href="#spk" fill="#46b6e4" transform="translate(1027,686) scale(1.5,1.2)"/>
<use xlink:href="#spk" fill="#5fd3a9" transform="translate(1008,714) scale(1.5,0.8)"/><use xlink:href="#spk" fill="#5fd3a9" transform="translate(1008,742) scale(1.5,1.5)"/><use xlink:href="#spk" fill="#5fd3a9" transform="translate(1008,771) scale(1.5,2)"/>
<use xlink:href="#spk" fill="#5fd3a9" transform="translate(1047,714) scale(1.5,1)"/><use xlink:href="#spk" fill="#5fd3a9" transform="translate(1047,742) scale(1.5,1.2)"/><use xlink:href="#spk" fill="#5fd3a9" transform="translate(1047,771) scale(1.5,1.8)"/>
</g>
<!-- Fasn tracks -->
<g>
<line class="bl" x1="460" y1="870" x2="755" y2="870"/><line class="bl" x1="460" y1="899" x2="755" y2="899"/><line class="bl" x1="460" y1="928" x2="755" y2="928"/><line class="bl" x1="460" y1="969" x2="755" y2="969"/><line class="bl" x1="460" y1="999" x2="755" y2="999"/><line class="bl" x1="460" y1="1029" x2="755" y2="1029"/>
<g fill="#46b6e4">
<use xlink:href="#bD" transform="translate(460,870) scale(1,0.5)"/><use xlink:href="#bD" transform="translate(560,870) scale(0.95,0.6)"/><use xlink:href="#bD" transform="translate(655,870) scale(1,0.5)"/>
<use xlink:href="#bD" transform="translate(460,899) scale(1,0.6)"/><use xlink:href="#bD" transform="translate(560,899) scale(0.95,0.8)"/><use xlink:href="#bD" transform="translate(655,899) scale(1,0.9)"/>
<use xlink:href="#bD" transform="translate(460,928) scale(1,1.2)"/><use xlink:href="#bD" transform="translate(560,928) scale(0.95,1.4)"/><use xlink:href="#bD" transform="translate(655,928) scale(1,2.5)"/>
</g>
<g fill="#f0506a"><use xlink:href="#bU" transform="translate(460,870) scale(1,0.5)"/><use xlink:href="#bU" transform="translate(560,870) scale(0.95,0.8)"/><use xlink:href="#bU" transform="translate(655,870) scale(1,0.6)"/>
<use xlink:href="#bU" transform="translate(460,899) scale(1,0.6)"/><use xlink:href="#bU" transform="translate(560,899) scale(0.95,0.5)"/><use xlink:href="#bU" transform="translate(655,899) scale(1,0.8)"/>
<use xlink:href="#bU" transform="translate(460,928) scale(1,0.4)"/><use xlink:href="#bU" transform="translate(560,928) scale(0.95,0.4)"/></g>
<g fill="#5fd3a9">
<use xlink:href="#bD" transform="translate(460,969) scale(1,0.4)"/><use xlink:href="#bD" transform="translate(560,969) scale(0.95,0.5)"/><use xlink:href="#bD" transform="translate(655,969) scale(1,0.4)"/>
<use xlink:href="#bD" transform="translate(460,999) scale(1,0.4)"/><use xlink:href="#bD" transform="translate(560,999) scale(0.95,0.5)"/><use xlink:href="#bD" transform="translate(655,999) scale(1,0.5)"/>
<use xlink:href="#bD" transform="translate(460,1029) scale(1,0.5)"/><use xlink:href="#bD" transform="translate(560,1029) scale(0.95,0.7)"/><use xlink:href="#bD" transform="translate(655,1029) scale(1,0.6)"/>
</g>
<g fill="#f5973a">
<use xlink:href="#bU" transform="translate(460,969) scale(1,0.8)"/><use xlink:href="#bU" transform="translate(560,969) scale(0.95,1.2)"/><use xlink:href="#bU" transform="translate(655,969) scale(1,0.9)"/>
<use xlink:href="#bU" transform="translate(460,999) scale(1,0.9)"/><use xlink:href="#bU" transform="translate(560,999) scale(0.95,1.1)"/><use xlink:href="#bU" transform="translate(655,999) scale(1,1)"/>
<use xlink:href="#bU" transform="translate(460,1029) scale(1,2.2)"/><use xlink:href="#bU" transform="translate(560,1029) scale(0.95,2)"/><use xlink:href="#bU" transform="translate(655,1029) scale(1,2.5)"/>
</g>
</g>
<!-- Scd1 tracks -->
<g>
<line class="bl" x1="862" y1="872" x2="1150" y2="872"/><line class="bl" x1="862" y1="901" x2="1150" y2="901"/><line class="bl" x1="862" y1="930" x2="1150" y2="930"/><line class="bl" x1="862" y1="960" x2="1150" y2="960"/><line class="bl" x1="862" y1="990" x2="1150" y2="990"/><line class="bl" x1="862" y1="1019" x2="1150" y2="1019"/>
<g fill="#46b6e4">
<use xlink:href="#bD" transform="translate(862,872) scale(0.96,1)"/><use xlink:href="#bD" transform="translate(958,872) scale(0.96,1.1)"/><use xlink:href="#bD" transform="translate(1054,872) scale(0.96,0.9)"/>
<use xlink:href="#bD" transform="translate(862,901) scale(0.96,1)"/><use xlink:href="#bD" transform="translate(958,901) scale(0.96,1.2)"/><use xlink:href="#bD" transform="translate(1054,901) scale(0.96,1)"/>
<use xlink:href="#bD" transform="translate(862,930) scale(0.96,1.3)"/><use xlink:href="#bD" transform="translate(958,930) scale(0.96,1.7)"/><use xlink:href="#bD" transform="translate(1054,930) scale(0.96,1.3)"/>
</g>
<g fill="#f0506a">
<use xlink:href="#bU" transform="translate(862,872) scale(0.96,1)"/><use xlink:href="#bU" transform="translate(958,872) scale(0.96,1.2)"/><use xlink:href="#bU" transform="translate(1054,872) scale(0.96,1)"/>
<use xlink:href="#bU" transform="translate(862,901) scale(0.96,1.6)"/><use xlink:href="#bU" transform="translate(958,901) scale(0.96,1.8)"/><use xlink:href="#bU" transform="translate(1054,901) scale(0.96,1.5)"/>
<use xlink:href="#bU" transform="translate(862,930) scale(0.96,1.5)"/><use xlink:href="#bU" transform="translate(958,930) scale(0.96,1.2)"/><use xlink:href="#bU" transform="translate(1054,930) scale(0.96,2)"/>
</g>
<g fill="#5fd3a9">
<use xlink:href="#bD" transform="translate(862,960) scale(0.96,0.6)"/><use xlink:href="#bD" transform="translate(958,960) scale(0.96,0.5)"/><use xlink:href="#bD" transform="translate(1054,960) scale(0.96,0.2)"/>
<use xlink:href="#bD" transform="translate(862,990) scale(0.96,0.6)"/><use xlink:href="#bD" transform="translate(958,990) scale(0.96,0.5)"/><use xlink:href="#bD" transform="translate(1054,990) scale(0.96,0.2)"/>
<use xlink:href="#bD" transform="translate(862,1019) scale(0.96,1.5)"/><use xlink:href="#bD" transform="translate(958,1019) scale(0.96,1.8)"/><use xlink:href="#bD" transform="translate(1054,1019) scale(0.96,0.4)"/>
</g>
</g>
<g font-size="8" text-anchor="middle">
<text x="509" y="805">16,540</text><text x="582" y="805">16,580</text><text x="652" y="805">16,620</text><text x="725" y="805">16,660 Kb</text><text x="594" y="810" font-size="7">chr12</text>
<text x="876" y="805">116,120</text><text x="938" y="805">116,160</text><text x="1000" y="805">116,2 00</text><text x="1068" y="805">116,240 Kb</text><text x="960" y="810" font-size="7">chr7</text>
<text x="474" y="1053">120,805</text><text x="540" y="1053">120,810</text><text x="604" y="1053">120,815</text><text x="665" y="1053">120,820 Kb</text><text x="733" y="1053">120,825 Kb</text><text x="605" y="1062" font-size="7">chr11</text>
<text x="895" y="1050">44,392.5</text><text x="960" y="1050">44,397.5</text><text x="1025" y="1050">44,402.5</text><text x="1095" y="1050">44,407.5 Kb</text><text x="1020" y="1059" font-size="7">chr19</text>
</g>
<g stroke="#1e6fb0" stroke-width="3"><line x1="508" y1="817" x2="640" y2="817"/><line x1="718" y1="812" x2="730" y2="812"/><line x1="880" y1="812" x2="893" y2="812"/><line x1="894" y1="824" x2="906" y2="824"/><line x1="914" y1="831" x2="962" y2="831"/><line x1="970" y1="815" x2="1014" y2="815"/><line x1="1048" y1="815" x2="1054" y2="815"/><line x1="1013" y1="828" x2="1046" y2="828"/><line x1="1055" y1="833" x2="1086" y2="833"/><line x1="1097" y1="815" x2="1150" y2="815"/><line x1="485" y1="1080" x2="650" y2="1080"/><line x1="920" y1="1078" x2="1090" y2="1078"/></g>
<g stroke="#111" stroke-width="4" stroke-dasharray="1.5 2.5"><line x1="510" y1="817" x2="640" y2="817"/><line x1="972" y1="815" x2="1014" y2="815"/><line x1="916" y1="831" x2="962" y2="831"/><line x1="1099" y1="815" x2="1150" y2="815"/><line x1="487" y1="1080" x2="650" y2="1080"/><line x1="965" y1="1078" x2="1085" y2="1078"/><line x1="1015" y1="828" x2="1046" y2="828"/></g>
<g font-size="8"><text x="646" y="820" fill="#e02020">Lpin1</text><text x="732" y="815">Ntsr2</text><text x="896" y="815">Trim65</text><text x="909" y="827">Mrpl38</text><text x="964" y="834">Fbf1</text><text x="1017" y="818" fill="#e02020">Acox1</text><text x="1056" y="818">Cdk3</text><text x="1046" y="826">Ten1</text><text x="1090" y="836">Evpl</text><text x="733" y="1083" fill="#e02020">Fasn</text><text x="1099" y="1081" fill="#e02020">Scd1</text></g>
<!-- panel f -->
<g font-size="14" text-anchor="middle">
<text x="120" y="1118">Lpin1</text><text x="120" y="1208">Acox1</text><text x="120" y="1304">Fasn</text><text x="122" y="1403">Scd1</text><text x="128" y="1494">Time (h)</text>
<text x="47" y="1564">0</text><text x="82" y="1564">8</text><text x="111" y="1564">24</text><text x="135" y="1564">48</text><text x="161" y="1564">72</text><text x="196" y="1564">168</text>
</g>
<g>
<use xlink:href="#s0" x="28" y="1125" fill="url(#o2)"/><use xlink:href="#s1" x="66" y="1125" fill="url(#o1)"/><use xlink:href="#s2" x="108" y="1125" fill="url(#o1)"/><use xlink:href="#s3" x="139" y="1125" fill="url(#o0)"/><use xlink:href="#s4" x="164" y="1125" fill="url(#o1)"/><use xlink:href="#s5" x="195" y="1125" fill="url(#o0)"/>
<use xlink:href="#s0" x="28" y="1215" fill="url(#o2)"/><use xlink:href="#s1" x="66" y="1215" fill="url(#o3)"/><use xlink:href="#s2" x="108" y="1215" fill="url(#o2)"/><use xlink:href="#s3" x="139" y="1215" fill="url(#o2)"/><use xlink:href="#s4" x="164" y="1215" fill="url(#o1)"/><use xlink:href="#s5" x="195" y="1215" fill="url(#o1)"/>
<use xlink:href="#s0" x="28" y="1310" fill="url(#o1)"/><use xlink:href="#s1" x="66" y="1310" fill="url(#o2)"/><use xlink:href="#s2" x="108" y="1310" fill="url(#o1)"/><use xlink:href="#s3" x="139" y="1310" fill="url(#o1)"/><use xlink:href="#s4" x="164" y="1310" fill="url(#o1)"/><use xlink:href="#s5" x="195" y="1310" fill="url(#o2)"/>
<use xlink:href="#s0" x="28" y="1410" fill="url(#o3)"/><use xlink:href="#s1" x="66" y="1410" fill="url(#o1)"/><use xlink:href="#s2" x="108" y="1410" fill="url(#o0)"/><use xlink:href="#s3" x="139" y="1410" fill="url(#o0)"/><use xlink:href="#s4" x="164" y="1410" fill="url(#o0)"/><use xlink:href="#s5" x="195" y="1410" fill="url(#o1)"/>
<use xlink:href="#s0" x="33" y="1500" fill="#f28c1e"/><use xlink:href="#s1" x="71" y="1500" fill="#2476c0"/><use xlink:href="#s2" x="113" y="1500" fill="#2e9e3a"/><use xlink:href="#s3" x="144" y="1500" fill="#dc2a2a"/><use xlink:href="#s4" x="169" y="1500" fill="#9a72c8"/><use xlink:href="#s5" x="200" y="1500" fill="#8c5a44"/>
</g>
<rect x="155" y="1100" width="72" height="6" fill="url(#fg)"/><text x="155" y="1097" font-size="8">0.0</text><text x="208" y="1097" font-size="8">69.0</text>
<!-- panel i -->
<rect x="1135" y="1178" width="85" height="7" fill="url(#fg)"/><text x="1135" y="1174" font-size="10">0.0</text><text x="1197" y="1174" font-size="10">69.0</text>
<g font-size="14" text-anchor="middle"><text x="1095" y="1193">Plin2</text><text x="1095" y="1296">Cidec</text><text x="1102" y="1397">Time (h)</text>
<text x="1003" y="1476">0</text><text x="1042" y="1476">8</text><text x="1080" y="1476">24</text><text x="1110" y="1476">48</text><text x="1142" y="1476">72</text><text x="1185" y="1476">168</text></g>
<g transform="translate(985,1200) scale(1.05)">
<use xlink:href="#s0" x="0" fill="url(#o0)"/><use xlink:href="#s1" x="37" fill="url(#o3)"/><use xlink:href="#s2" x="81" fill="url(#o0)"/><use xlink:href="#s3" x="111" fill="url(#o0)"/><use xlink:href="#s4" x="135" fill="url(#o0)"/><use xlink:href="#s5" x="170" fill="url(#o0)"/>
</g>
<g transform="translate(985,1303) scale(1.05)">
<use xlink:href="#s0" x="0" fill="url(#o0)"/><use xlink:href="#s1" x="37" fill="url(#o2)"/><use xlink:href="#s2" x="81" fill="url(#o0)"/><use xlink:href="#s3" x="111" fill="url(#o0)"/><use xlink:href="#s4" x="135" fill="url(#o0)"/><use xlink:href="#s5" x="170" fill="url(#o0)"/>
</g>
<g transform="translate(985,1404) scale(1.2)">
<use xlink:href="#s0" x="0" fill="#f28c1e"/><use xlink:href="#s1" x="32" fill="#2476c0"/><use xlink:href="#s2" x="71" fill="#2e9e3a"/><use xlink:href="#s3" x="97" fill="#dc2a2a"/><use xlink:href="#s4" x="118" fill="#9a72c8"/><use xlink:href="#s5" x="148" fill="#8c5a44"/>
</g>
<!-- panel g -->
<g font-size="14">
<text x="418" y="1179">Oil Red O</text>
<line x1="322" y1="1186" x2="598" y2="1186" stroke="#000" stroke-width="1.5"/>
<text x="350" y="1209">100X</text><text x="528" y="1209">200X</text>
<text transform="translate(282,1320) rotate(-90)">pre-PHx</text>
<text transform="translate(282,1455) rotate(-90)">post-PHx</text>
<rect x="285" y="1215" width="172" height="128" fill="url(#pre1)"/>
<rect x="462" y="1215" width="172" height="128" fill="url(#pre2)"/>
<rect x="285" y="1348" width="172" height="130" fill="url(#post1)"/>
<rect x="462" y="1348" width="172" height="130" fill="url(#post2)"/>
<path d="M290,1350 Q320,1365 340,1352 L340,1348 L290,1348Z" fill="#f4eef4"/>
<rect x="340" y="1241" width="88" height="62" fill="none" stroke="#000" stroke-width="1.3"/>
<rect x="330" y="1376" width="90" height="65" fill="none" stroke="#000" stroke-width="1.3"/>
<line x1="428" y1="1241" x2="462" y2="1215" stroke="#000"/><line x1="428" y1="1303" x2="462" y2="1343" stroke="#000"/>
<line x1="420" y1="1376" x2="462" y2="1348" stroke="#000"/><line x1="420" y1="1441" x2="462" y2="1478" stroke="#000"/>
<g font-size="10"><text x="420" y="1336">100 μm</text><text x="590" y="1336">100 μm</text><text x="420" y="1468">100 μm</text><text x="590" y="1468">100 μm</text></g>
</g>
<!-- panel h -->
<g font-size="13">
<rect x="818" y="1158" width="14" height="10" fill="#d9435a" stroke="#333"/><text x="838" y="1168">Phx</text>
<rect x="874" y="1158" width="14" height="10" fill="#4fb49a" stroke="#333"/><text x="894" y="1168">Sham</text>
<rect x="713" y="1175" width="225" height="145" fill="none" stroke="#000"/>
<rect x="713" y="1340" width="225" height="135" fill="none" stroke="#000"/>
<g text-anchor="end"><text x="708" y="1317">7</text><text x="708" y="1284">8</text><text x="708" y="1251">9</text><text x="708" y="1218">10</text><text x="708" y="1185">11</text>
<text x="708" y="1475">0</text><text x="708" y="1438">2</text><text x="708" y="1400">4</text><text x="708" y="1363">6</text></g>
<g stroke="#000"><line x1="709" y1="1313.4" x2="713" y2="1313.4"/><line x1="709" y1="1280.5" x2="713" y2="1280.5"/><line x1="709" y1="1247.5" x2="713" y2="1247.5"/><line x1="709" y1="1214.6" x2="713" y2="1214.6"/><line x1="709" y1="1181.6" x2="713" y2="1181.6"/>
<line x1="709" y1="1471.25" x2="713" y2="1471.25"/><line x1="709" y1="1433.75" x2="713" y2="1433.75"/><line x1="709" y1="1396.25" x2="713" y2="1396.25"/><line x1="709" y1="1358.75" x2="713" y2="1358.75"/></g>
<text transform="translate(694,1247) rotate(-90)" text-anchor="middle">Plin2 expression level</text>
<text transform="translate(694,1407) rotate(-90)" text-anchor="middle">Cidec expression level</text>
<g font-size="12"><text x="729" y="1187">*</text><text x="756" y="1187">*</text><text x="784" y="1187">*</text><text x="812" y="1187">*</text><text x="840" y="1187">*</text><text x="922" y="1187">*</text>
<text x="729" y="1352">*</text><text x="756" y="1352">*</text><text x="784" y="1352">*</text><text x="812" y="1352">*</text><text x="840" y="1352">*</text><text x="895" y="1352">*</text><text x="922" y="1352">*</text></g>
<g class="w">
<line x1="722" y1="1231" x2="722" y2="1198"/><line x1="749" y1="1188" x2="749" y2="1183"/><line x1="777" y1="1221" x2="777" y2="1211"/><line x1="805" y1="1294" x2="805" y2="1244"/><line x1="833" y1="1251" x2="833" y2="1221"/><line x1="860" y1="1284" x2="860" y2="1257"/><line x1="888" y1="1284" x2="888" y2="1238"/><line x1="915" y1="1287" x2="915" y2="1274"/>
<line x1="734" y1="1287" x2="734" y2="1280"/><line x1="761" y1="1294" x2="761" y2="1280"/><line x1="789" y1="1303" x2="789" y2="1294"/><line x1="817" y1="1307" x2="817" y2="1300"/><line x1="845" y1="1307" x2="845" y2="1297"/><line x1="872" y1="1294" x2="872" y2="1274"/><line x1="900" y1="1284" x2="900" y2="1267"/><line x1="927" y1="1303" x2="927" y2="1290"/>
<line x1="722" y1="1406" x2="722" y2="1368"/><line x1="749" y1="1364" x2="749" y2="1355"/><line x1="777" y1="1374" x2="777" y2="1357"/><line x1="805" y1="1437" x2="805" y2="1381"/><line x1="833" y1="1415" x2="833" y2="1349"/><line x1="860" y1="1456" x2="860" y2="1419"/><line x1="888" y1="1452" x2="888" y2="1368"/><line x1="915" y1="1451" x2="915" y2="1437"/>
<line x1="734" y1="1462" x2="734" y2="1454"/><line x1="761" y1="1466" x2="761" y2="1426"/><line x1="789" y1="1456" x2="789" y2="1449"/><line x1="817" y1="1464" x2="817" y2="1460"/><line x1="845" y1="1456" x2="845" y2="1449"/><line x1="872" y1="1466" x2="872" y2="1449"/><line x1="900" y1="1456" x2="900" y2="1449"/><line x1="927" y1="1468" x2="927" y2="1458"/>
</g>
<g class="bp">
<rect x="717" y="1205" width="10" height="19.7"/><rect x="744" y="1184" width="10" height="4"/><rect x="772" y="1213" width="10" height="6.5"/><rect x="800" y="1261" width="10" height="29.6"/><rect x="828" y="1228" width="10" height="16.5"/><rect x="855" y="1267" width="10" height="11.5"/><rect x="883" y="1247.5" width="10" height="29.7"/><rect x="910" y="1275.5" width="10" height="6"/>
<rect x="717" y="1377.5" width="10" height="18.75"/><rect x="744" y="1357" width="10" height="5.6"/><rect x="772" y="1358.75" width="10" height="11.25"/><rect x="800" y="1387" width="10" height="43"/><rect x="828" y="1353" width="10" height="39.4"/><rect x="855" y="1430" width="10" height="18.75"/><rect x="883" y="1387" width="10" height="46.9"/><rect x="910" y="1439.4" width="10" height="7.5"/>
</g>
<g class="bs">
<rect x="729" y="1282" width="10" height="4"/><rect x="756" y="1282" width="10" height="6.7"/><rect x="784" y="1293.6" width="10" height="6.6"/><rect x="812" y="1302" width="10" height="3"/><rect x="840" y="1297" width="10" height="6.6"/><rect x="867" y="1280.5" width="10" height="6.5"/><rect x="895" y="1270.6" width="10" height="9.9"/><rect x="922" y="1293.6" width="10" height="6.6"/>
<rect x="729" y="1456.3" width="10" height="3.7"/><rect x="756" y="1446.9" width="10" height="15"/><rect x="784" y="1450.6" width="10" height="3.8"/><rect x="812" y="1461" width="10" height="2"/><rect x="840" y="1450.6" width="10" height="3.8"/><rect x="867" y="1452.5" width="10" height="9.4"/><rect x="895" y="1450.6" width="10" height="3.8"/><rect x="922" y="1460" width="10" height="5.6"/>
</g>
<g class="w">
<line x1="717" y1="1214.6" x2="727" y2="1214.6"/><line x1="772" y1="1216" x2="782" y2="1216"/><line x1="800" y1="1287" x2="810" y2="1287"/><line x1="828" y1="1237.6" x2="838" y2="1237.6"/><line x1="855" y1="1274" x2="865" y2="1274"/><line x1="883" y1="1270.6" x2="893" y2="1270.6"/>
<line x1="717" y1="1387" x2="727" y2="1387"/><line x1="772" y1="1362.5" x2="782" y2="1362.5"/><line x1="800" y1="1409.4" x2="810" y2="1409.4"/><line x1="828" y1="1373.75" x2="838" y2="1373.75"/><line x1="855" y1="1441" x2="865" y2="1441"/><line x1="883" y1="1424.4" x2="893" y2="1424.4"/>
<line x1="756" y1="1460" x2="766" y2="1460"/><line x1="867" y1="1458" x2="877" y2="1458"/>
</g>
<g text-anchor="middle"><text x="727" y="1490">4</text><text x="754" y="1490">8</text><text x="782" y="1490">12</text><text x="810" y="1490">16</text><text x="838" y="1490">20</text><text x="865" y="1490">24</text><text x="893" y="1490">28</text><text x="920" y="1490">32</text>
<text x="825" y="1506">Time (h)</text></g>
</g>
</svg>
</body></html>
